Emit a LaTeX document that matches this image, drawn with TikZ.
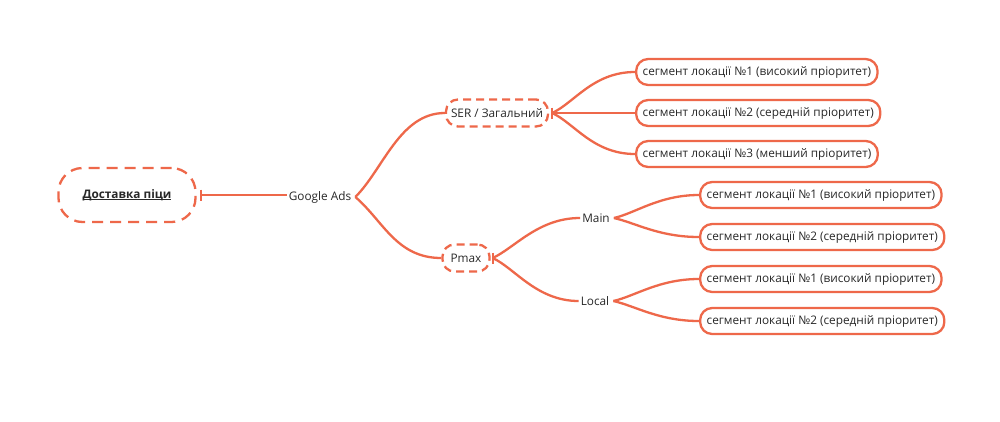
\documentclass[tikz,border=0pt]{standalone}
\usepackage{fontspec}
\setmainfont{Open Sans}
\usetikzlibrary{calc}
\definecolor{brc}{RGB}{238,104,74}
\definecolor{txt}{RGB}{40,40,40}
\newcommand{\myul}[1]{\setbox0\hbox{#1}\rlap{\rule[-2.2pt]{\wd0}{1pt}}\box0}
\begin{document}
\begin{tikzpicture}[x=1pt,y=-1pt,
  font=\fontsize{11.8}{13}\selectfont,
  leaf/.style={draw=brc, line width=2.3pt, rounded corners=12pt, minimum height=26pt,
    inner xsep=6.5pt, inner ysep=0pt, text=txt, fill=white, anchor=west},
  dashbox/.style={draw=brc, line width=2.3pt, dash pattern=on 8pt off 5pt,
    rounded corners=12pt, text=txt, minimum height=27pt, inner xsep=5pt, inner ysep=0pt},
  plain/.style={text=txt, inner sep=2pt},
  br/.style={draw=brc, line width=2.3pt},
  tick/.style={draw=brc, line width=2.3pt}
]
\useasboundingbox[fill=white] (0,0) rectangle (1000,421);

% nodes
\node[dashbox, minimum width=137pt, minimum height=54pt, rounded corners=24pt,
  dash pattern=on 11pt off 7pt, font=\fontsize{11.8}{13}\selectfont\bfseries] (root) at (127,195) {\myul{Доставка піци}};
\node[plain] (ga) at (320,197) {Google Ads};
\node[dashbox, minimum width=101pt] (ser) at (497,113) {SER / Загальний};
\node[dashbox, minimum width=47pt, inner xsep=3pt] (pmax) at (466,258) {Pmax};
\node[plain] (main) at (596,218) {Main};
\node[plain] (local) at (595,301) {Local};

\node[leaf] (s1) at (635,72) {сегмент локації №1 (високий пріоритет)};
\node[leaf] (s2) at (635,113) {сегмент локації №2 (середній пріоритет)};
\node[leaf] (s3) at (635,154) {сегмент локації №3 (менший пріоритет)};
\node[leaf] (m1) at (699,195) {сегмент локації №1 (високий пріоритет)};
\node[leaf] (m2) at (699,237) {сегмент локації №2 (середній пріоритет)};
\node[leaf] (l1) at (699,279) {сегмент локації №1 (високий пріоритет)};
\node[leaf] (l2) at (699,321) {сегмент локації №2 (середній пріоритет)};

% junction points
\coordinate (rt) at ($(root.east)+(4,0)$);
\coordinate (st) at ($(ser.east)+(3,0)$);
\coordinate (pt) at ($(pmax.east)+(2,0)$);
\coordinate (gt) at ($(ga.east)+(2,0)$);
\coordinate (mt) at ($(main.east)+(2,0)$);
\coordinate (lt) at ($(local.east)+(2,0)$);

% root -> Google Ads
\draw[br] (rt) -- (rt -| ga.west);
\draw[tick] ($(rt)+(0,-5.5)$) -- ($(rt)+(0,5.5)$);

% Google Ads -> SER, Pmax
\draw[br] (gt) .. controls ($(gt)+(28,-28)$) and ($(ser.west)+(-45,0)$) .. (ser.west);
\draw[br] (gt) .. controls ($(gt)+(28,24)$) and ($(pmax.west)+(-45,0)$) .. (pmax.west);

% SER -> segments
\draw[tick] ($(st)+(0,-5.5)$) -- ($(st)+(0,5.5)$);
\draw[br] (st) .. controls ($(st)+(22,-10)$) and ($(s1.west)+(-42,0)$) .. (s1.west);
\draw[br] (st) -- (s2.west);
\draw[br] (st) .. controls ($(st)+(22,10)$) and ($(s3.west)+(-42,0)$) .. (s3.west);

% Pmax -> Main, Local
\draw[tick] ($(pt)+(0,-5.5)$) -- ($(pt)+(0,5.5)$);
\draw[br] (pt) .. controls ($(pt)+(22,-10)$) and ($(main.west)+(-42,0)$) .. (main.west);
\draw[br] (pt) .. controls ($(pt)+(22,10)$) and ($(local.west)+(-42,0)$) .. (local.west);

% Main -> segments
\draw[br] (mt) .. controls ($(mt)+(22,-5)$) and ($(m1.west)+(-40,0)$) .. (m1.west);
\draw[br] (mt) .. controls ($(mt)+(22,5)$) and ($(m2.west)+(-40,0)$) .. (m2.west);

% Local -> segments
\draw[br] (lt) .. controls ($(lt)+(22,-5)$) and ($(l1.west)+(-40,0)$) .. (l1.west);
\draw[br] (lt) .. controls ($(lt)+(22,5)$) and ($(l2.west)+(-40,0)$) .. (l2.west);
\end{tikzpicture}
\end{document}
